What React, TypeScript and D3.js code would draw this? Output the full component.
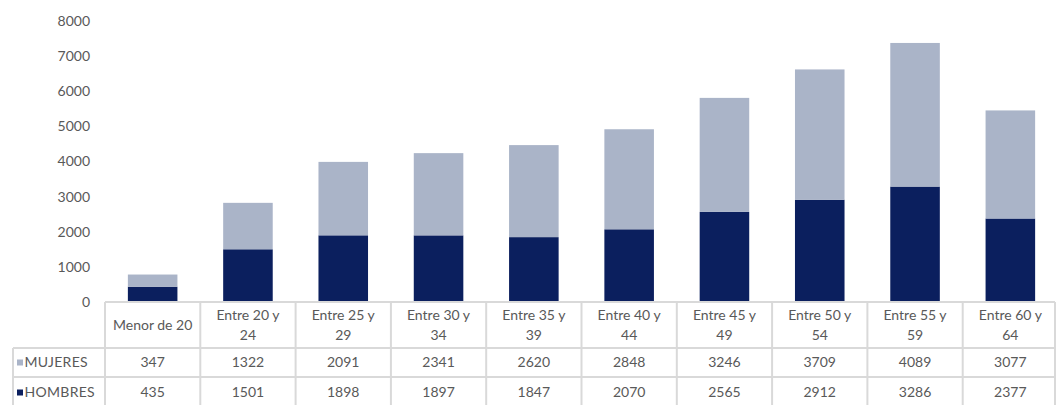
import React from "react";
import * as d3 from "d3";

const categories = [
  "Menor de 20",
  "Entre 20 y 24",
  "Entre 25 y 29",
  "Entre 30 y 34",
  "Entre 35 y 39",
  "Entre 40 y 44",
  "Entre 45 y 49",
  "Entre 50 y 54",
  "Entre 55 y 59",
  "Entre 60 y 64",
];
const categoryLines = [
  ["Menor de 20"],
  ["Entre 20 y", "24"],
  ["Entre 25 y", "29"],
  ["Entre 30 y", "34"],
  ["Entre 35 y", "39"],
  ["Entre 40 y", "44"],
  ["Entre 45 y", "49"],
  ["Entre 50 y", "54"],
  ["Entre 55 y", "59"],
  ["Entre 60 y", "64"],
];
const mujeres = [347, 1322, 2091, 2341, 2620, 2848, 3246, 3709, 4089, 3077];
const hombres = [435, 1501, 1898, 1897, 1847, 2070, 2565, 2912, 3286, 2377];
const yTicks = [0, 1000, 2000, 3000, 4000, 5000, 6000, 7000, 8000];

const seriesNames = ["HOMBRES", "MUJERES"];
const colors: Record<string, string> = { HOMBRES: "#0b1f5e", MUJERES: "#aab4c8" };

const W = 1056;
const H = 405;
const FONT = "Lato, 'Liberation Sans', sans-serif";
const TEXT = "#595959";
const BORDER = "#d9d9d9";

export default function App() {
  const x = d3.scaleBand<string>().domain(categories).range([105, 1058]).paddingInner(0).paddingOuter(0);
  const y = d3.scaleLinear().domain([0, 8000]).range([302, 21]);
  const barW = x.bandwidth() * 0.52;

  const table = categories.map((c, i) => ({ cat: c, HOMBRES: hombres[i], MUJERES: mujeres[i] }));
  const stacked = d3.stack<any>().keys(seriesNames)(table);

  const rowTop = 302;
  const rowHeader = 348;
  const rowM = 377;
  const rowBottom = 406;
  const legendLeft = 13;

  return (
    <svg width={W} height={H} style={{ position: "absolute", left: 0, top: 0 }} fontFamily={FONT}>
      <rect width={W} height={H} fill="#fff" />
      {/* y axis labels */}
      {yTicks.map((t) => (
        <text key={t} x={90} y={y(t)} dy="0.35em" textAnchor="end" fontSize={14} fill={TEXT}>
          {t}
        </text>
      ))}
      {/* bars */}
      {stacked.map((s) => (
        <g key={s.key} fill={colors[s.key]}>
          {s.map((d, i) => (
            <rect
              key={i}
              x={(x(categories[i]) as number) + (x.bandwidth() - barW) / 2}
              y={y(d[1])}
              width={barW}
              height={y(d[0]) - y(d[1])}
            />
          ))}
        </g>
      ))}
      {/* table borders */}
      <g stroke={BORDER} strokeWidth={2} fill="none">
        <line x1={105} x2={1055} y1={rowTop} y2={rowTop} />
        <line x1={legendLeft} x2={1055} y1={rowHeader} y2={rowHeader} />
        <line x1={legendLeft} x2={1055} y1={rowM} y2={rowM} />
        <line x1={legendLeft} x2={legendLeft} y1={rowHeader} y2={rowBottom} />
        {categories.map((c) => (
          <line key={c} x1={x(c)} x2={x(c)} y1={rowTop} y2={rowBottom} />
        ))}
        <line x1={1055} x2={1055} y1={rowTop} y2={rowBottom} />
      </g>
      {/* header labels */}
      {categoryLines.map((lines, i) => {
        const cx = (x(categories[i]) as number) + x.bandwidth() / 2;
        const cy = (rowTop + rowHeader) / 2;
        return (
          <text key={i} textAnchor="middle" fontSize={14} fill={TEXT}>
            {lines.map((l, j) => (
              <tspan key={j} x={cx} y={cy + (j - (lines.length - 1) / 2) * 20} dy="0.35em">
                {l}
              </tspan>
            ))}
          </text>
        );
      })}
      {/* legend + values rows */}
      {[
        { name: "MUJERES", vals: mujeres, cy: 362.5 },
        { name: "HOMBRES", vals: hombres, cy: 392.5 },
      ].map((r) => {
        const cy = r.cy;
        return (
          <g key={r.name}>
            <rect x={17} y={cy - 3} width={6} height={6} fill={colors[r.name]} />
            <text x={24.5} y={cy} dy="0.35em" fontSize={14} fill={TEXT} letterSpacing={0.3}>
              {r.name}
            </text>
            {r.vals.map((v, i) => (
              <text
                key={i}
                x={(x(categories[i]) as number) + x.bandwidth() / 2}
                y={cy}
                dy="0.35em"
                textAnchor="middle"
                fontSize={14}
                fill={TEXT}
              >
                {v}
              </text>
            ))}
          </g>
        );
      })}
    </svg>
  );
}
